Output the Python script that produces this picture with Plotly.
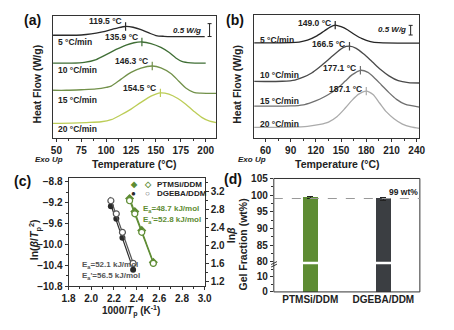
import plotly.graph_objects as go
import numpy as np

# ---------------- data ----------------
rates = ['5 °C/min', '10 °C/min', '15 °C/min', '20 °C/min']

# (a) PTMSi/DDM DSC curves: temperature (°C) / heat flow (W/g, stacked)
a5_T = [46.6, 60, 75, 85, 95, 105, 112, 119.5, 127, 135, 143, 150, 158, 170, 185, 199]
a5_HF = [3.98, 3.98, 3.99, 4.03, 4.10, 4.20, 4.27, 4.32, 4.29, 4.20, 4.07, 3.97, 3.94, 3.93, 3.93, 3.93]
a10_T = [46.6, 65, 78, 90, 100, 110, 120, 128, 135.9, 145, 155, 163, 170, 176, 185, 200]
a10_HF = [2.90, 2.90, 2.93, 3.04, 3.23, 3.43, 3.60, 3.69, 3.72, 3.66, 3.51, 3.32, 3.10, 2.97, 2.91, 2.90]
a15_T = [46.6, 60, 75, 90, 100, 105, 115, 125, 135, 146.3, 155, 165, 173, 180, 188, 195, 210.7]
a15_HF = [1.85, 1.85, 1.87, 1.90, 1.96, 2.01, 2.28, 2.54, 2.71, 2.79, 2.72, 2.50, 2.20, 1.94, 1.77, 1.74, 1.73]
a20_T = [46.6, 65, 80, 95, 105, 115, 125, 135, 145, 154.5, 163, 172, 180, 188, 196, 204, 210.7]
a20_HF = [0.57, 0.58, 0.60, 0.63, 0.71, 0.90, 1.12, 1.38, 1.62, 1.75, 1.70, 1.53, 1.31, 1.04, 0.80, 0.65, 0.60]
a_peak_T = [119.5, 135.9, 146.3, 154.5]
a_peak_HF = [4.32, 3.72, 2.79, 1.75]
a_peak_label = [119.5, 135.9, 146.3, 154.5]

# (b) DGEBA/DDM DSC curves
b5_T = [46.5, 90, 100, 110, 120, 130, 137, 143, 150, 158, 166, 175, 185, 195, 243.2]
b5_HF = [4.92, 4.93, 4.96, 5.06, 5.26, 5.54, 5.74, 5.84, 5.76, 5.59, 5.36, 5.14, 4.99, 4.93, 4.91]
b10_T = [46.5, 80, 95, 105, 115, 125, 135, 145, 153, 160, 168, 177, 187, 197, 207, 218, 230, 243.2]
b10_HF = [2.92, 2.93, 2.99, 3.14, 3.36, 3.69, 4.06, 4.44, 4.69, 4.75, 4.64, 4.34, 3.94, 3.54, 3.21, 2.96, 2.86, 2.84]
b15_T = [46.5, 90, 105, 115, 125, 135, 145, 155, 163, 173, 182, 190, 198, 207, 216, 226, 243.2]
b15_HF = [1.64, 1.65, 1.71, 1.84, 2.01, 2.24, 2.54, 2.94, 3.26, 3.50, 3.39, 3.09, 2.74, 2.34, 1.99, 1.74, 1.59]
b20_T = [46.5, 90, 110, 125, 135, 145, 155, 163, 171, 180, 188, 196, 204, 213, 223, 233, 243.2]
b20_HF = [0.54, 0.55, 0.59, 0.69, 0.81, 1.09, 1.54, 1.94, 2.26, 2.42, 2.24, 1.79, 1.34, 0.99, 0.71, 0.56, 0.49]
b_peak_T = [143, 160, 173, 180]
b_peak_HF = [5.84, 4.75, 3.50, 2.42]
b_peak_label = [149.0, 166.5, 177.1, 187.1]

# (c) Kissinger / Ozawa plots
ptmsi_x = [2.547, 2.445, 2.384, 2.338]
ptmsi_kis = [-10.34, -9.73, -9.37, -9.12]
ptmsi_oz = [1.61, 2.30, 2.71, 3.00]
dgeba_x = [2.369, 2.275, 2.221, 2.173]
dgeba_kis = [-10.48, -9.87, -9.51, -9.27]
dgeba_oz = [1.61, 2.30, 2.71, 3.00]

# (d) gel fraction
samples = ['PTMSi/DDM', 'DGEBA/DDM']
gel = [99.2, 98.9]
gel_err = [0.3, 0.4]
threshold = 99

# ---------------- styling ----------------
W, H = 454, 330
FONT = 'Liberation Sans'
a_colors = ['#2b2b2b', '#3f6e35', '#72914a', '#bccd57']
b_colors = ['#262626', '#4a4a4a', '#707070', '#ababab']
GREEN = '#5e8c33'
DARK = '#3b3e42'
AX = '#333333'


def fx(x):
    return x / W


def fy(y):
    return 1 - y / H


fig = go.Figure()

a_T = [a5_T, a10_T, a15_T, a20_T]
a_HF = [a5_HF, a10_HF, a15_HF, a20_HF]
b_T = [b5_T, b10_T, b15_T, b20_T]
b_HF = [b5_HF, b10_HF, b15_HF, b20_HF]

for i in range(4):
    fig.add_trace(go.Scatter(x=a_T[i], y=a_HF[i], mode='lines', xaxis='x', yaxis='y',
                             line=dict(color=a_colors[i], width=1.3, shape='spline', smoothing=0.8),
                             showlegend=False))
    fig.add_trace(go.Scatter(x=b_T[i], y=b_HF[i], mode='lines', xaxis='x2', yaxis='y2',
                             line=dict(color=b_colors[i], width=1.3, shape='spline', smoothing=0.8),
                             showlegend=False))
fig.add_trace(go.Scatter(x=a_peak_T, y=a_peak_HF, mode='markers', xaxis='x', yaxis='y',
                         marker=dict(symbol='line-ns', size=6, line=dict(color=a_colors, width=1.2)),
                         showlegend=False))
fig.add_trace(go.Scatter(x=b_peak_T, y=b_peak_HF, mode='markers', xaxis='x2', yaxis='y2',
                         marker=dict(symbol='line-ns', size=6, line=dict(color=b_colors, width=1.2)),
                         showlegend=False))


# (c) fit lines + markers
def fit_line(xs, ys):
    k, b = np.polyfit(xs, ys, 1)
    xx = np.array([min(xs) - 0.008, max(xs) + 0.008])
    return xx, k * xx + b


for xs, ys, ya, col in [(ptmsi_x, ptmsi_kis, 'y3', GREEN), (ptmsi_x, ptmsi_oz, 'y4', GREEN),
                        (dgeba_x, dgeba_kis, 'y3', '#2a2a2a'), (dgeba_x, dgeba_oz, 'y4', '#555555')]:
    xx, yy = fit_line(xs, ys)
    fig.add_trace(go.Scatter(x=xx, y=yy, mode='lines', xaxis='x3', yaxis=ya,
                             line=dict(color=col, width=1.2), showlegend=False))

fig.add_trace(go.Scatter(x=ptmsi_x, y=ptmsi_kis, mode='markers', xaxis='x3', yaxis='y3',
                         marker=dict(symbol='diamond', size=7, color=GREEN), showlegend=False))
fig.add_trace(go.Scatter(x=dgeba_x, y=dgeba_kis, mode='markers', xaxis='x3', yaxis='y3',
                         marker=dict(symbol='circle', size=6, color='#2a2a2a'), showlegend=False))
fig.add_trace(go.Scatter(x=ptmsi_x, y=ptmsi_oz, mode='markers', xaxis='x3', yaxis='y4',
                         marker=dict(symbol='circle', size=6, color='white', line=dict(color=GREEN, width=1.2)),
                         showlegend=False))
fig.add_trace(go.Scatter(x=dgeba_x, y=dgeba_oz, mode='markers', xaxis='x3', yaxis='y4',
                         marker=dict(symbol='circle', size=6, color='white', line=dict(color='#555555', width=1.2)),
                         showlegend=False))

# (d) bars (broken axis: lower + upper segment)
bar_cols = [GREEN, DARK]
fig.add_trace(go.Bar(x=samples, y=gel, xaxis='x4', yaxis='y5', width=0.195,
                     marker=dict(color=bar_cols, line=dict(width=0)), showlegend=False))
fig.add_trace(go.Bar(x=samples, y=gel, xaxis='x5', yaxis='y6', width=0.195, base=0,
                     marker=dict(color=bar_cols, line=dict(width=0)),
                     error_y=dict(type='data', array=gel_err, color='#222', thickness=1, width=3),
                     showlegend=False))

tickfont = dict(family=FONT, size=10, color='#222', weight='bold')
common_x = dict(showline=True, linecolor=AX, linewidth=1, mirror=True, ticks='outside', ticklen=3,
                tickcolor=AX, tickfont=tickfont, showgrid=False, zeroline=False, ticklabelstandoff=0)

fig.update_layout(
    width=W, height=H, margin=dict(l=0, r=0, t=0, b=0),
    paper_bgcolor='white', plot_bgcolor='white', bargap=0,
    font=dict(family=FONT),
    xaxis=dict(common_x, domain=[fx(47.5), fx(216)], range=[46.6, 210.7], anchor='y',
               tick0=50, dtick=25, minor=dict(dtick=12.5, ticks='outside', ticklen=2, tickcolor=AX)),
    yaxis=dict(domain=[fy(137), fy(10)], range=[0, 4.74], anchor='x', showline=True, linecolor=AX,
               linewidth=1, mirror=True, showticklabels=False, ticks='', showgrid=False, zeroline=False),
    xaxis2=dict(common_x, domain=[fx(255), fx(425.5)], range=[46.5, 243.2], anchor='y2',
                tick0=60, dtick=30, minor=dict(dtick=15, ticks='outside', ticklen=2, tickcolor=AX)),
    yaxis2=dict(domain=[fy(136.7), fy(9.3)], range=[0, 6.37], anchor='x2', showline=True, linecolor=AX,
                linewidth=1, mirror=True, showticklabels=False, ticks='', showgrid=False, zeroline=False),
    xaxis3=dict(common_x, domain=[fx(63.5), fx(204)], range=[1.8, 3.0], anchor='y3',
                tick0=1.8, dtick=0.2, tickformat='.1f',
                minor=dict(dtick=0.1, ticks='outside', ticklen=2, tickcolor=AX)),
    yaxis3=dict(domain=[fy(291), fy(178.3)], range=[-10.8, -8.726], anchor='x3', showline=True,
                linecolor=AX, linewidth=1, mirror=False, ticks='outside', ticklen=3, tickcolor=AX,
                tickfont=tickfont, tick0=-10.8, dtick=0.4, tickformat='.1f', showgrid=False, zeroline=False,
                minor=dict(dtick=0.2, ticks='outside', ticklen=2, tickcolor=AX)),
    yaxis4=dict(overlaying='y3', side='right', anchor='x3', range=[1.1, 3.508], showline=True,
                linecolor=AX, linewidth=1, ticks='outside', ticklen=3, tickcolor=AX, tickfont=tickfont,
                tick0=1.2, dtick=0.4, tickformat='.1f', showgrid=False, zeroline=False,
                minor=dict(dtick=0.2, ticks='outside', ticklen=2, tickcolor=AX)),
    xaxis4=dict(domain=[fx(275.3), fx(426)], range=[-0.5, 1.5], anchor='y5', type='category',
                showline=False, ticks='', tickfont=tickfont, showgrid=False, zeroline=False),
    xaxis5=dict(domain=[fx(275.3), fx(426)], matches='x4', anchor='y6', visible=False, type='category'),
    yaxis5=dict(domain=[fy(296.7), fy(268)], range=[0, 18.3], anchor='x4', showline=False,
                ticks='outside', ticklen=3, tickcolor=AX, tickfont=tickfont, dtick=10, showgrid=False,
                zeroline=False, minor=dict(dtick=5, ticks='outside', ticklen=2, tickcolor=AX)),
    yaxis6=dict(domain=[fy(265.5), fy(179)], range=[80, 105], anchor='x5', showline=False,
                ticks='outside', ticklen=3, tickcolor=AX, tickfont=tickfont, dtick=5, showgrid=False,
                zeroline=False, minor=dict(dtick=2.5, ticks='outside', ticklen=2, tickcolor=AX)),
)

shapes = []
# frame of (d)
shapes.append(dict(type='rect', xref='paper', yref='paper', x0=fx(275.3), x1=fx(426), y0=fy(296.7),
                   y1=fy(179), line=dict(color=AX, width=1)))
# axis break marks
for dy in (0, 2.6):
    shapes.append(dict(type='line', xref='paper', yref='paper', x0=fx(272.5), x1=fx(278.5),
                       y0=fy(268.3 + dy), y1=fy(265.3 + dy), line=dict(color=AX, width=1)))
# 99 wt% dashed line
shapes.append(dict(type='line', xref='paper', yref='y6', x0=fx(275.3), x1=fx(426), y0=threshold,
                   y1=threshold, line=dict(color='#999999', width=1.2, dash='dash')))
# scale bars (0.5 W/g)
for xr, yr, xc, y0, cap in [('x', 'y', 203.9, 3.93, 2.0), ('x2', 'y2', 232.8, 5.33, 2.4)]:
    shapes.append(dict(type='line', xref=xr, yref=yr, x0=xc, x1=xc, y0=y0, y1=y0 + 0.5,
                       line=dict(color='#222', width=1)))
    for yy in (y0, y0 + 0.5):
        shapes.append(dict(type='line', xref=xr, yref=yr, x0=xc - cap, x1=xc + cap, y0=yy, y1=yy,
                           line=dict(color='#222', width=1)))
fig.update_layout(shapes=shapes)

ann = []


def A(text, x, y, size=8.5, color='#222', xanchor='center', angle=0):
    ann.append(dict(text=text, x=fx(x), y=fy(y), xref='paper', yref='paper', showarrow=False,
                    xanchor=xanchor, yanchor='middle', textangle=angle,
                    font=dict(family=FONT, size=size, color=color, weight='bold')))


# panel labels
A('(a)', 26.5, 15, size=14, color='#111')
A('(b)', 235, 15, size=14, color='#111')
A('(c)', 16, 181.5, size=14, color='#111')
A('(d)', 233, 180, size=14, color='#111')

# axis titles
A('Heat Flow (W/g)', 31.5, 81, size=10.5, angle=-90)
A('Heat Flow (W/g)', 237, 81, size=10.5, angle=-90)
A('Temperature (°C)', 131.5, 164, size=10.5)
A('Temperature (°C)', 341, 164, size=10.5)
A('<i>Exo Up</i>', 43, 159.5, size=8)
A('<i>Exo Up</i>', 253, 159.5, size=8)
A('ln(<i>β</i>/<i>T</i><sub>p</sub><sup>2</sup>)', 29, 243, size=10.5, angle=-90)
A('ln<i>β</i>', 231, 238, size=10.5, angle=-90)
A('1000/<i>T</i><sub>p</sub> (K<sup>-1</sup>)', 128, 316.5, size=10)
A('Gel Fraction (wt%)', 244, 247, size=10.5, angle=-90)

# scale bar labels
A('<i>0.5 W/g</i>', 186, 25, size=8)
A('<i>0.5 W/g</i>', 397, 24.5, size=8)

# rate labels
for i, yv in enumerate([37.7, 66.7, 97.3, 127.7]):
    A(rates[i], 51, yv, xanchor='left')
for i, yv in enumerate([35, 71.7, 98.3, 122.7]):
    A(rates[i], 258.7, yv, xanchor='left')

# (c) legend and activation energies
A('◆', 131, 185.5, size=8, color=GREEN)
A('◇', 145, 185.5, size=8, color=GREEN)
A('PTMSi/DDM', 152.5, 185.5, size=8, xanchor='left')
A('●', 131, 195, size=8, color='#2a2a2a')
A('○', 145, 195, size=8, color='#555')
A('DGEBA/DDM', 152.5, 195, size=8, xanchor='left')
A('E<sub>a</sub>=48.7 kJ/mol', 138, 211, size=8, color=GREEN, xanchor='left')
A('E<sub>a</sub>\'=52.8 kJ/mol', 138, 222.5, size=8, color=GREEN, xanchor='left')
A('E<sub>a</sub>=52.1 kJ/mol', 75, 269, size=8, color='#555', xanchor='left')
A('E<sub>a</sub>\'=56.5 kJ/mol', 75, 280.5, size=8, color='#555', xanchor='left')

# (d) threshold label
A('%d wt%%' % threshold, 409, 193, size=8.5)

# peak labels
for T, v, lab in zip(a_peak_T, a_peak_HF, a_peak_label):
    ann.append(dict(text='%.1f °C' % lab, x=T, y=v, xref='x', yref='y', showarrow=False,
                    xanchor='right', yanchor='middle', xshift=-2, yshift=5,
                    font=dict(family=FONT, size=8.5, color='#222', weight='bold')))
for T, v, lab in zip(b_peak_T, b_peak_HF, b_peak_label):
    ann.append(dict(text='%.1f °C' % lab, x=T, y=v, xref='x2', yref='y2', showarrow=False,
                    xanchor='right', yanchor='middle', xshift=-2, yshift=2,
                    font=dict(family=FONT, size=8.5, color='#222', weight='bold')))

fig.update_layout(annotations=ann)
fig.write_html('out.html')
